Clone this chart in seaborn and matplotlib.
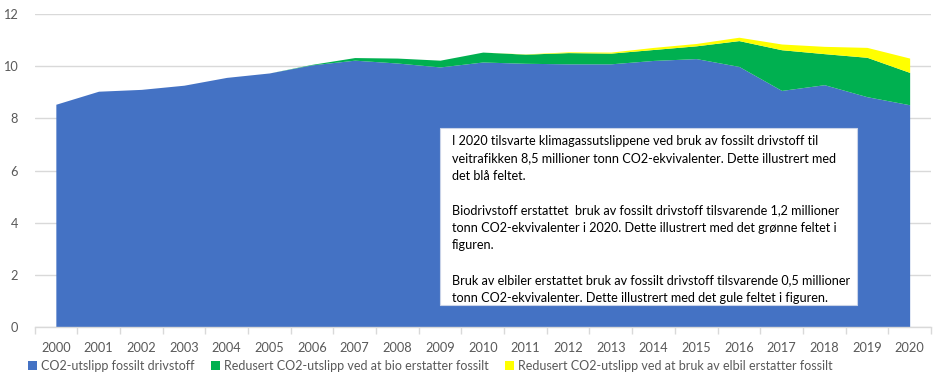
import matplotlib
matplotlib.use("Agg")
import matplotlib.pyplot as plt
from matplotlib.patches import Rectangle
import seaborn as sns
import numpy as np

years = [str(y) for y in range(2000, 2021)]
fossil = [8.54, 9.04, 9.11, 9.27, 9.57, 9.74, 10.05, 10.23, 10.12, 9.97, 10.16,
          10.11, 10.09, 10.09, 10.22, 10.29, 9.99, 9.07, 9.29, 8.83, 8.52]
bio = [0, 0, 0, 0, 0, 0, 0.02, 0.10, 0.19, 0.26, 0.38,
       0.35, 0.43, 0.41, 0.42, 0.49, 0.99, 1.56, 1.19, 1.51, 1.24]
elbil = [0, 0, 0, 0, 0, 0, 0, 0, 0, 0, 0,
         0.01, 0.03, 0.04, 0.08, 0.09, 0.13, 0.22, 0.28, 0.38, 0.55]
series_labels = ["CO2-utslipp fossilt drivstoff",
                 "Redusert CO2-utslipp ved at bio erstatter fossilt",
                 "Redusert CO2-utslipp ved at bruk av elbil erstatter fossilt"]
y_ticks = [0, 2, 4, 6, 8, 10, 12]
note = ("I 2020 tilsvarte klimagassutslippene ved bruk av fossilt drivstoff til\n"
        "veitrafikken 8,5 millioner tonn CO2-ekvivalenter. Dette illustrert med\n"
        "det blå feltet.\n"
        "\n"
        "Biodrivstoff erstattet  bruk av fossilt drivstoff tilsvarende 1,2 millioner\n"
        "tonn CO2-ekvivalenter i 2020. Dette illustrert med det grønne feltet i\n"
        "figuren.\n"
        "\n"
        "Bruk av elbiler erstattet bruk av fossilt drivstoff tilsvarende 0,5 millioner\n"
        "tonn CO2-ekvivalenter. Dette illustrert med det gule feltet i figuren.")

sns.set_theme(style="white")
plt.rcParams['font.family'] = ['Lato', 'DejaVu Sans']

colors = ["#4472C4", "#00B050", "#FFFF00"]

W, H = 945, 391
fig = plt.figure(figsize=(9.45, 3.91), dpi=100)
ax = fig.add_axes([34.5 / W, 1 - 327 / H, (931 - 34.5) / W, (327 - 14) / H])

x = np.arange(len(years))
polys = ax.stackplot(x, fossil, bio, elbil, colors=colors, labels=series_labels,
                     linewidth=0, zorder=2)

ax.set_xlim(-0.5, len(years) - 0.5)
ax.set_ylim(0, 12)
ax.set_yticks(y_ticks)
ax.set_yticklabels([str(t) for t in y_ticks])
ax.set_xticks(x)
ax.set_xticklabels(years)
ax.set_xticks(np.arange(-0.5, len(years), 1), minor=True)

ax.yaxis.grid(True, color="#D9D9D9", linewidth=1, zorder=0)
ax.xaxis.grid(False)
ax.set_axisbelow(True)
for s in ["top", "right", "left"]:
    ax.spines[s].set_visible(False)
ax.spines["bottom"].set_color("#D9D9D9")
ax.spines["bottom"].set_linewidth(1)
ax.spines["bottom"].set_zorder(3)

ax.tick_params(axis="x", which="major", length=0, pad=11, labelsize=9.2, labelcolor="#595959")
ax.tick_params(axis="x", which="minor", length=5, width=1, color="#D9D9D9", bottom=True)
ax.tick_params(axis="y", length=0, pad=12, labelsize=9.2, labelcolor="#595959")

# annotation box
fig.patches.append(Rectangle((440 / W, 1 - 305 / H), (857 - 440) / W, (305 - 128) / H,
                             transform=fig.transFigure, facecolor="white",
                             edgecolor="#C9D3E8", linewidth=0.8, zorder=4))
fig.text(452 / W, 1 - 135 / H, note, ha="left", va="top",
         fontsize=9.1, color="#000000", linespacing=1.54, zorder=5)

fig.legend(handles=polys, labels=series_labels, loc="center left",
           bbox_to_anchor=(28 / W, 1 - 366 / H), ncol=3, frameon=False,
           fontsize=9.0, handlelength=0.7, handleheight=0.7, handletextpad=0.35,
           columnspacing=1.3, labelcolor="#595959", borderaxespad=0, borderpad=0)

fig.savefig("out.png", dpi=100)
